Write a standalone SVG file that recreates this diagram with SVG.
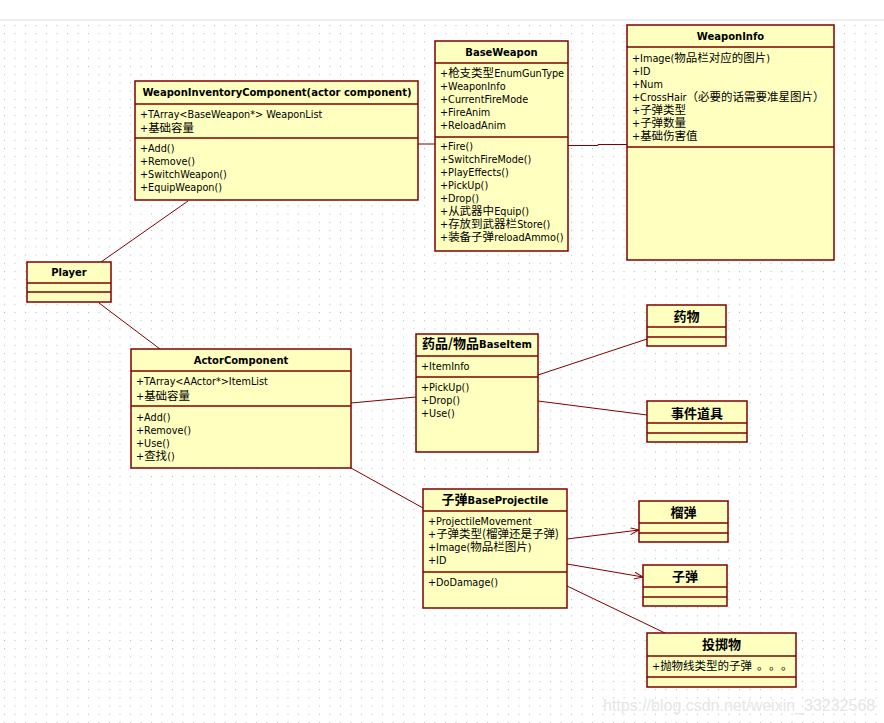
<svg xmlns="http://www.w3.org/2000/svg" width="884" height="723" viewBox="0 0 884 723">
<defs>
<pattern id="grid" x="4" y="25" width="10.5" height="8.2" patternUnits="userSpaceOnUse">
<rect x="0" y="0" width="1" height="1" fill="#b8b8b8"/>
</pattern>
<marker id="open" markerWidth="10" markerHeight="8" refX="9" refY="3.5" orient="auto" markerUnits="userSpaceOnUse">
<path d="M0,0 L9,3.5 L0,7" fill="none" stroke="#800000" stroke-width="1"/>
</marker>
</defs>
<style>
.box{fill:#ffffc0;stroke:#800000;stroke-width:1.5}
.dv{stroke:#800000;stroke-width:1.5}
.t{font-family:"DejaVu Sans","Noto Sans CJK SC",sans-serif;font-size:9.7px;fill:#000}
.ti{font-weight:bold;text-anchor:middle;font-size:10px}
.c{font-family:"Noto Sans CJK SC",sans-serif;font-size:11.5px}
.cb{font-family:"Noto Sans CJK SC",sans-serif;font-size:13px;font-weight:bold}
.conn{stroke:#800000;stroke-width:1;fill:none}
.wm{font-family:"Liberation Sans",Arial,sans-serif;font-size:16px;fill:#e6e6e6}
</style>
<rect x="0" y="0" width="884" height="723" fill="#ffffff"/>
<rect x="0" y="21" width="884" height="702" fill="url(#grid)"/>
<rect x="0" y="19" width="884" height="2" fill="#eeeeee"/>

<g id="connectors">
<line class="conn" x1="188" y1="201" x2="101" y2="262"/>
<line class="conn" x1="99" y1="303" x2="160" y2="349"/>
<line class="conn" x1="418" y1="144" x2="435" y2="144"/>
<polyline class="conn" points="568,145.5 598,145.5 598,144.5 627,144.5"/>
<line class="conn" x1="351" y1="403" x2="416" y2="397"/>
<line class="conn" x1="538" y1="375" x2="647" y2="339"/>
<line class="conn" x1="538" y1="401" x2="647" y2="415"/>
<line class="conn" x1="351" y1="468" x2="423" y2="508"/>
<line class="conn" x1="567" y1="539" x2="639" y2="530" marker-end="url(#open)"/>
<line class="conn" x1="567" y1="564" x2="643" y2="577" marker-end="url(#open)"/>
<line class="conn" x1="567" y1="586" x2="665" y2="633"/>
</g>

<g id="WeaponInventoryComponent">
<rect class="box" x="135" y="81" width="283" height="119"/>
<line class="dv" x1="135" y1="104" x2="418" y2="104"/>
<line class="dv" x1="135" y1="138" x2="418" y2="138"/>
<text class="t ti" x="277" y="96">WeaponInventoryComponent(actor component)</text>
<text class="t" x="140" y="118">+TArray&lt;BaseWeapon*&gt; WeaponList</text>
<text class="t" x="140" y="132">+<tspan class="c">基础容量</tspan></text>
<text class="t" x="140" y="152">+Add()</text>
<text class="t" x="140" y="165">+Remove()</text>
<text class="t" x="140" y="178">+SwitchWeapon()</text>
<text class="t" x="140" y="191">+EquipWeapon()</text>
</g>

<g id="BaseWeapon">
<rect class="box" x="435" y="41" width="133" height="210"/>
<line class="dv" x1="435" y1="63" x2="568" y2="63"/>
<line class="dv" x1="435" y1="137" x2="568" y2="137"/>
<text class="t ti" x="501.5" y="56">BaseWeapon</text>
<text class="t" x="440" y="77">+<tspan class="c">枪支类型</tspan>EnumGunType</text>
<text class="t" x="440" y="90">+WeaponInfo</text>
<text class="t" x="440" y="103">+CurrentFireMode</text>
<text class="t" x="440" y="116">+FireAnim</text>
<text class="t" x="440" y="129">+ReloadAnim</text>
<text class="t" x="440" y="150">+Fire()</text>
<text class="t" x="440" y="163">+SwitchFireMode()</text>
<text class="t" x="440" y="176">+PlayEffects()</text>
<text class="t" x="440" y="189">+PickUp()</text>
<text class="t" x="440" y="202">+Drop()</text>
<text class="t" x="440" y="215">+<tspan class="c">从武器中</tspan>Equip()</text>
<text class="t" x="440" y="228">+<tspan class="c">存放到武器栏</tspan>Store()</text>
<text class="t" x="440" y="241">+<tspan class="c">装备子弹</tspan>reloadAmmo()</text>
</g>

<g id="WeaponInfo">
<rect class="box" x="627" y="25" width="207" height="235"/>
<line class="dv" x1="627" y1="47" x2="834" y2="47"/>
<line class="dv" x1="627" y1="147" x2="834" y2="147"/>
<text class="t ti" x="730.5" y="40">WeaponInfo</text>
<text class="t" x="632" y="62">+Image(<tspan class="c">物品栏对应的图片</tspan>)</text>
<text class="t" x="632" y="75">+ID</text>
<text class="t" x="632" y="88">+Num</text>
<text class="t" x="632" y="101">+CrossHair<tspan class="c">（必要的话需要准星图片）</tspan></text>
<text class="t" x="632" y="114">+<tspan class="c">子弹类型</tspan></text>
<text class="t" x="632" y="127">+<tspan class="c">子弹数量</tspan></text>
<text class="t" x="632" y="140">+<tspan class="c">基础伤害值</tspan></text>
</g>

<g id="Player">
<rect class="box" x="27" y="262" width="84" height="40"/>
<line class="dv" x1="27" y1="283" x2="111" y2="283"/>
<line class="dv" x1="27" y1="292" x2="111" y2="292"/>
<text class="t ti" x="69" y="276">Player</text>
</g>

<g id="ActorComponent">
<rect class="box" x="131" y="349" width="220" height="119"/>
<line class="dv" x1="131" y1="371" x2="351" y2="371"/>
<line class="dv" x1="131" y1="406" x2="351" y2="406"/>
<text class="t ti" x="241" y="364">ActorComponent</text>
<text class="t" x="136" y="385">+TArray&lt;AActor*&gt;ItemList</text>
<text class="t" x="136" y="400">+<tspan class="c">基础容量</tspan></text>
<text class="t" x="136" y="421">+Add()</text>
<text class="t" x="136" y="434">+Remove()</text>
<text class="t" x="136" y="447">+Use()</text>
<text class="t" x="136" y="460">+<tspan class="c">查找</tspan>()</text>
</g>

<g id="BaseItem">
<rect class="box" x="416" y="334" width="122" height="118"/>
<line class="dv" x1="416" y1="356" x2="538" y2="356"/>
<line class="dv" x1="416" y1="377" x2="538" y2="377"/>
<text class="t ti" x="477" y="348"><tspan class="cb">药品/物品</tspan>BaseItem</text>
<text class="t" x="421" y="370">+ItemInfo</text>
<text class="t" x="421" y="391">+PickUp()</text>
<text class="t" x="421" y="404">+Drop()</text>
<text class="t" x="421" y="417">+Use()</text>
</g>

<g id="Medicine">
<rect class="box" x="647" y="305" width="79" height="41"/>
<line class="dv" x1="647" y1="327" x2="726" y2="327"/>
<line class="dv" x1="647" y1="337" x2="726" y2="337"/>
<text class="t ti" x="686.5" y="321"><tspan class="cb">药物</tspan></text>
</g>

<g id="EventItem">
<rect class="box" x="647" y="401" width="100" height="41"/>
<line class="dv" x1="647" y1="423" x2="747" y2="423"/>
<line class="dv" x1="647" y1="433" x2="747" y2="433"/>
<text class="t ti" x="697" y="418"><tspan class="cb">事件道具</tspan></text>
</g>

<g id="BaseProjectile">
<rect class="box" x="423" y="489" width="144" height="119"/>
<line class="dv" x1="423" y1="511" x2="567" y2="511"/>
<line class="dv" x1="423" y1="572" x2="567" y2="572"/>
<text class="t ti" x="495" y="504"><tspan class="cb">子弹</tspan>BaseProjectile</text>
<text class="t" x="428" y="525">+ProjectileMovement</text>
<text class="t" x="428" y="538">+<tspan class="c">子弹类型(榴弹还是子弹)</tspan></text>
<text class="t" x="428" y="551">+Image(<tspan class="c">物品栏图片</tspan>)</text>
<text class="t" x="428" y="564">+ID</text>
<text class="t" x="428" y="586">+DoDamage()</text>
</g>

<g id="Grenade">
<rect class="box" x="639" y="501" width="89" height="41"/>
<line class="dv" x1="639" y1="523" x2="728" y2="523"/>
<line class="dv" x1="639" y1="533" x2="728" y2="533"/>
<text class="t ti" x="683.5" y="517"><tspan class="cb">榴弹</tspan></text>
</g>

<g id="Bullet">
<rect class="box" x="643" y="565" width="84" height="41"/>
<line class="dv" x1="643" y1="587" x2="727" y2="587"/>
<line class="dv" x1="643" y1="597" x2="727" y2="597"/>
<text class="t ti" x="685" y="581"><tspan class="cb">子弹</tspan></text>
</g>

<g id="Throwable">
<rect class="box" x="647" y="633" width="149" height="54"/>
<line class="dv" x1="647" y1="656" x2="796" y2="656"/>
<line class="dv" x1="647" y1="677" x2="796" y2="677"/>
<text class="t ti" x="721.5" y="649"><tspan class="cb">投掷物</tspan></text>
<text class="t" x="652" y="670">+<tspan class="c">抛物线类型的子弹</tspan><tspan class="c" x="757 769 781">。。。</tspan></text>
</g>

<text class="wm" x="603" y="711">https://blog.csdn.net/weixin_33232568</text>
</svg>
